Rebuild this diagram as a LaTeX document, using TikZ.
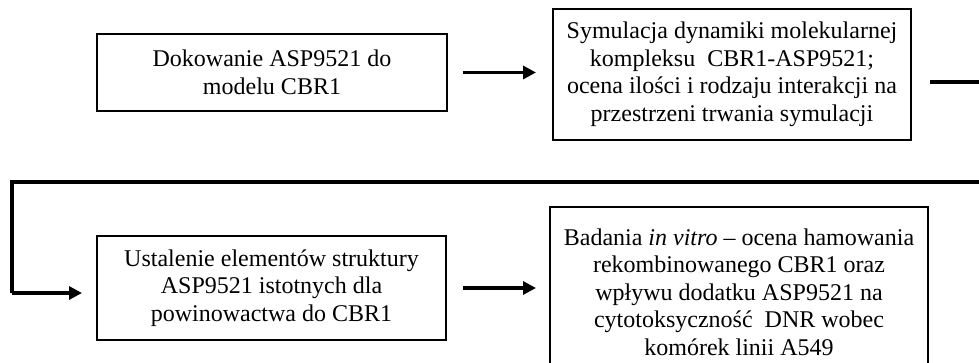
\documentclass[tikz,border=0pt]{standalone}
\usepackage{fontspec}
\setmainfont{Liberation Serif}
\usetikzlibrary{arrows.meta, positioning, calc}

\begin{document}
\begin{tikzpicture}[x=0.5pt, y=-0.5pt,
  stepbox/.style={draw, line width=1pt, align=center, inner sep=0pt,
    font=\fontsize{12}{13.75}\selectfont},
  flow/.style={line width=1.6pt, -{Triangle[length=6.5pt, width=6.5pt]}},
  flowline/.style={line width=1.6pt}]
  \useasboundingbox (0,0) rectangle (979,363);

  % Boxes
  \node[stepbox, minimum width=175pt, minimum height=38.5pt] (dock) at (272,72.5)
    {Dokowanie ASP9521 do\\ modelu CBR1};
  \node[stepbox, minimum width=179pt, minimum height=65.5pt] (md) at (732,74.5)
    {Symulacja dynamiki molekularnej\\ kompleksu~ CBR1-ASP9521;\\
     ocena ilości i rodzaju interakcji na\\ przestrzeni trwania symulacji};
  \node[stepbox, minimum width=174.5pt, minimum height=52pt] (struct) at (271.5,288)
    {Ustalenie elementów struktury\\ ASP9521 istotnych dla\\ powinowactwa do CBR1};
  \node[stepbox, minimum width=189pt, minimum height=85pt] (vitro) at (739,292)
    {Badania \textit{in vitro} – ocena hamowania\\ rekombinowanego CBR1 oraz\\
     wpływu dodatku ASP9521 na\\ cytotoksyczność~ DNR wobec\\ komórek linii A549};

  % Connectors
  \draw[flow, shorten <=7.5pt, shorten >=8pt] (dock.east) -- (dock.east -| md.west);
  \draw[flow, shorten <=8pt, shorten >=6.5pt] (struct.east) -- (struct.east -| vitro.west);

  % Return line
  \coordinate (outA) at (979,82);
  \coordinate (outB) at (979,182);
  \coordinate (turn) at (12,182);
  \coordinate (inC) at (12,293);
  \draw[flowline] ([xshift=9pt]md.east |- outA) -- (outA);
  \draw[flowline] (outB) -- (turn) -- (inC);
  \draw[flow, shorten >=7pt] (inC) -- (inC -| struct.west);
\end{tikzpicture}
\end{document}
